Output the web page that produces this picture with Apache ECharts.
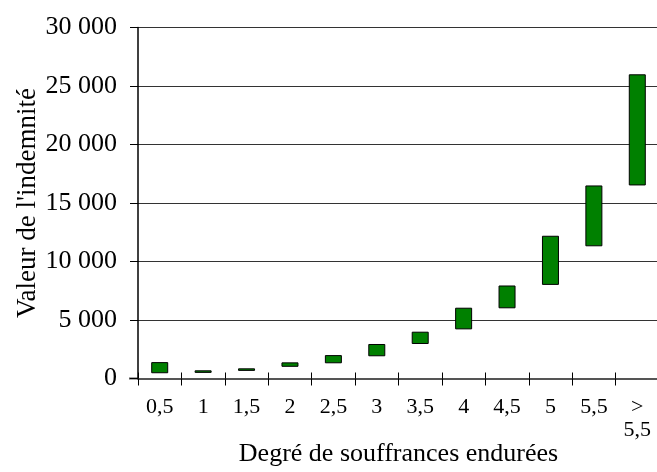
<!DOCTYPE html>
<html>
<head>
<meta charset="utf-8">
<script src="https://cdn.jsdelivr.net/npm/echarts@6/dist/echarts.min.js"></script>
<style>
  html, body { margin: 0; padding: 0; background: #fff; }
  #chart { width: 657px; height: 472px; }
</style>
</head>
<body>
<div id="chart"></div>
<script>
// degré de souffrances -> fourchette de l'indemnité
const categories = ['0,5', '1', '1,5', '2', '2,5', '3', '3,5', '4', '4,5', '5', '5,5', '>\n5,5'];
const lowValues = [450, 480, 650, 1000, 1300, 1900, 2950, 4200, 6000, 8000, 11300, 16500];
const highValues = [1400, 700, 870, 1380, 2000, 2950, 4000, 6050, 7950, 12200, 16500, 26000];
const yTicks = [0, 5000, 10000, 15000, 20000, 25000, 30000];

const font = '"Liberation Serif", "Times New Roman", serif';
const rangeValues = highValues.map((h, i) => h - lowValues[i]);

const fmt = v => String(v).replace(/\B(?=(\d{3})+(?!\d))/g, ' ');

const chart = echarts.init(document.getElementById('chart'));

chart.setOption({
  animation: false,
  grid: { left: 138, top: 27.5, right: -2, bottom: 93.5, containLabel: false, outerBoundsMode: 'none' },
  xAxis: [
    {
      type: 'category',
      data: categories,
      name: 'Degré de souffrances endurées',
      nameLocation: 'middle',
      nameGap: 63,
      nameMoveOverlap: false,
      nameTextStyle: { fontFamily: font, fontSize: 26, color: '#000' },
      axisLine: { lineStyle: { color: '#555', width: 2 } },
      axisTick: { show: true, interval: 0, length: 7, lineStyle: { color: '#000' } },
      axisLabel: { interval: 0, margin: 17, fontFamily: font, fontSize: 22, color: '#000', lineHeight: 23 }
    },
    {
      // ticks that cross the axis upward
      type: 'category',
      data: categories,
      position: 'bottom',
      axisLine: { show: false },
      axisTick: { show: true, inside: true, interval: 0, length: 6, lineStyle: { color: '#000' } },
      axisLabel: { show: false }
    }
  ],
  yAxis: {
    type: 'value',
    min: yTicks[0],
    max: yTicks[yTicks.length - 1],
    interval: 5000,
    name: "Valeur de l'indemnité",
    nameLocation: 'middle',
    nameGap: 97,
    nameMoveOverlap: false,
    nameTextStyle: { fontFamily: font, fontSize: 27, color: '#000' },
    axisLine: { show: true, lineStyle: { color: '#000', width: 1.5 } },
    axisTick: { show: true, length: 8, lineStyle: { color: '#000' } },
    axisLabel: { margin: 21, fontFamily: font, fontSize: 26, color: '#000', formatter: fmt },
    splitLine: { show: true, lineStyle: { color: '#333', width: 1 } }
  },
  graphic: [
    { type: 'line', shape: { x1: 129, y1: 378.5, x2: 139, y2: 378.5 }, style: { stroke: '#555', lineWidth: 2 } }
  ],
  series: [
    {
      type: 'bar',
      stack: 'range',
      data: lowValues,
      barWidth: 17,
      itemStyle: { color: 'transparent' },
      silent: true
    },
    {
      type: 'bar',
      stack: 'range',
      data: rangeValues,
      barWidth: 17,
      itemStyle: { color: '#008000', borderColor: '#000', borderWidth: 1 }
    }
  ]
});
</script>
</body>
</html>
